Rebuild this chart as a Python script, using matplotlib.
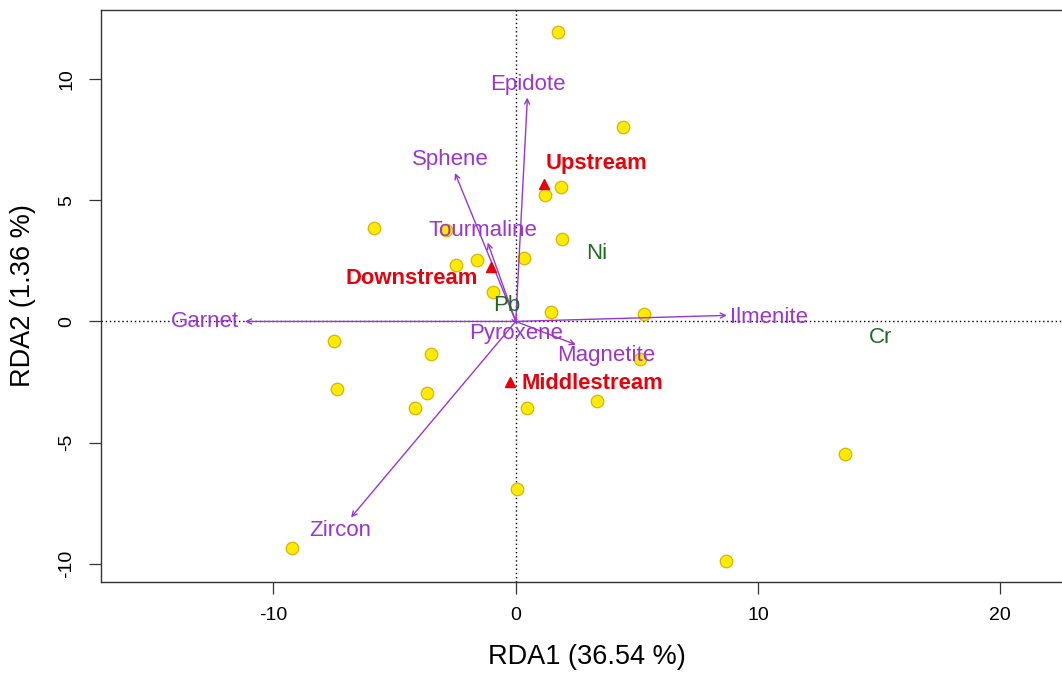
import matplotlib
matplotlib.use('Agg')
import matplotlib.pyplot as plt

plt.rcParams['font.family'] = ['Liberation Sans', 'DejaVu Sans']
plt.rcParams['axes.unicode_minus'] = False

# Site scores (yellow points)
site_x = [1.73, 4.42, 1.87, 1.20, -5.84, -2.88, 1.90, 0.34, -1.61, -2.46, -0.92,
          1.46, 5.30, -7.50, -7.37, -9.22, -3.48, -3.65, -4.14, 0.45, 3.37, 0.05,
          5.13, 13.57, 8.67]
site_y = [11.94, 8.02, 5.54, 5.21, 3.87, 3.76, 3.40, 2.63, 2.55, 2.31, 1.22,
          0.38, 0.32, -0.80, -2.78, -9.34, -1.36, -2.96, -3.56, -3.56, -3.30, -6.91,
          -1.54, -5.45, -9.89]

# Group centroids (red triangles)
groups = ['Upstream', 'Downstream', 'Middlestream']
group_x = [1.18, -1.03, -0.22]
group_y = [5.68, 2.24, -2.50]

# Mineral vectors (purple arrows) and label positions
minerals = ['Epidote', 'Sphene', 'Tourmaline', 'Garnet', 'Ilmenite',
            'Zircon', 'Magnetite', 'Pyroxene']
arrow_x = [0.48, -2.51, -1.16, -11.18, 8.71, -6.80, 2.48, 0.06]
arrow_y = [9.23, 6.12, 3.25, 0.00, 0.25, -8.08, -0.96, -0.12]
mlab_x = [0.49, -2.71, -1.34, -12.83, 10.47, -7.25, 3.72, 0.01]
mlab_y = [9.78, 6.67, 3.76, 0.00, 0.18, -8.63, -1.40, -0.51]

# Metal labels (green text)
metals = ['Ni', 'Pb', 'Cr']
metal_x = [3.34, -0.37, 15.04]
metal_y = [2.79, 0.66, -0.65]

PURPLE = '#9A35D0'
RED = '#E8000B'
GREEN = '#1F6B1F'

W, H = 1062, 674
fig = plt.figure(figsize=(W / 100, H / 100), dpi=100)
left, right, top, bottom = 101, 1073, 10, 581.7
ax = fig.add_axes([left / W, (H - bottom) / H, (right - left) / W, (bottom - top) / H])
ax.set_xlim(-17.12, 23.0)
ax.set_ylim(-10.73, 12.84)

ax.axhline(0, color='black', lw=1.0, ls=(0, (1, 2)), zorder=1)
ax.axvline(0, color='black', lw=1.0, ls=(0, (1, 2)), zorder=1)

ax.plot(site_x, site_y, 'o', ms=9, mfc='#FFEB00', mec='#D8B400', mew=0.9, zorder=3)

for name, tx, ty, lx, ly in zip(minerals, arrow_x, arrow_y, mlab_x, mlab_y):
    ax.annotate('', xy=(tx, ty), xytext=(0, 0),
                arrowprops=dict(arrowstyle='->', color=PURPLE, lw=1.0,
                                mutation_scale=9, shrinkA=0, shrinkB=0),
                zorder=4)
    ax.text(lx, ly, name, color=PURPLE, fontsize=16, ha='center', va='center', zorder=5)

for name, gx, gy in zip(metals, metal_x, metal_y):
    ax.text(gx, gy, name, color=GREEN, fontsize=16, ha='center', va='center', zorder=5)

ax.plot(group_x, group_y, '^', ms=7, color=RED, mec=RED, zorder=6)
ax.text(group_x[0] + 0.05, group_y[0] + 0.84, groups[0], color=RED, fontsize=15.8,
        fontweight='bold', ha='left', va='center', zorder=6)
ax.text(group_x[1] - 0.53, group_y[1] - 0.45, groups[1], color=RED, fontsize=15.8,
        fontweight='bold', ha='right', va='center', zorder=6)
ax.text(group_x[2] + 0.44, group_y[2] - 0.05, groups[2], color=RED, fontsize=15.8,
        fontweight='bold', ha='left', va='center', zorder=6)

ax.set_xticks([-10, 0, 10, 20])
ax.set_yticks([-10, -5, 0, 5, 10])
ax.tick_params(axis='both', direction='out', length=8.5, width=0.9, labelsize=14,
               color='#333333')
ax.tick_params(axis='x', pad=10)
ax.tick_params(axis='y', pad=10)
for lab in ax.get_yticklabels():
    lab.set_rotation(90)
    lab.set_va('center')
ax.spines['right'].set_visible(False)
for s in ['left', 'top', 'bottom']:
    ax.spines[s].set_color('#333333')
    ax.spines[s].set_linewidth(1.0)

ax.set_xlabel('RDA1 (36.54 %)', fontsize=19.5, labelpad=14)
ax.set_ylabel('RDA2 (1.36 %)', fontsize=19.5, labelpad=16)

fig.savefig('out.png', dpi=100)
